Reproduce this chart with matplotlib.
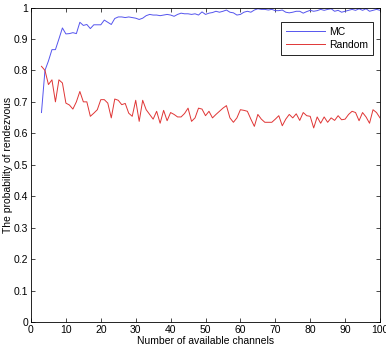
import matplotlib
matplotlib.use("Agg")
import matplotlib.pyplot as plt
import numpy as np

plt.rcParams['font.family'] = ['Liberation Sans', 'DejaVu Sans']

channels = list(range(3, 101))
mc = [0.666, 0.80, 0.83, 0.866, 0.866, 0.90, 0.935, 0.916, 0.917, 0.92,
      0.917, 0.953, 0.943, 0.946, 0.933, 0.945, 0.945, 0.945, 0.96, 0.953,
      0.946, 0.965, 0.97, 0.97, 0.968, 0.97, 0.968, 0.966, 0.962, 0.966,
      0.974, 0.978, 0.976, 0.976, 0.974, 0.976, 0.978, 0.976, 0.972, 0.978,
      0.982, 0.98, 0.98, 0.978, 0.98, 0.976, 0.986, 0.978, 0.982, 0.984,
      0.988, 0.985, 0.988, 0.992, 0.985, 0.983, 0.976, 0.978, 0.985, 0.988,
      0.985, 0.992, 0.996, 0.994, 0.994, 0.992, 0.994, 0.99, 0.99, 0.992,
      0.985, 0.983, 0.985, 0.988, 0.988, 0.982, 0.987, 0.991, 0.988, 0.99,
      0.994, 0.991, 0.994, 0.996, 0.988, 0.991, 0.985, 0.988, 0.991, 0.994,
      0.991, 0.996, 0.991, 0.996, 0.988, 0.991, 0.994, 0.991]
rnd = [0.813, 0.80, 0.755, 0.77, 0.70, 0.77, 0.76, 0.696, 0.69, 0.677,
       0.70, 0.733, 0.70, 0.70, 0.654, 0.664, 0.675, 0.707, 0.707, 0.696,
       0.649, 0.709, 0.705, 0.691, 0.695, 0.664, 0.654, 0.705, 0.638, 0.705,
       0.675, 0.66, 0.645, 0.67, 0.632, 0.673, 0.64, 0.666, 0.66, 0.652,
       0.652, 0.663, 0.68, 0.638, 0.649, 0.68, 0.677, 0.656, 0.67, 0.649,
       0.66, 0.67, 0.68, 0.688, 0.649, 0.635, 0.649, 0.675, 0.673, 0.67,
       0.645, 0.622, 0.66, 0.645, 0.635, 0.635, 0.635, 0.645, 0.656, 0.624,
       0.645, 0.66, 0.649, 0.662, 0.641, 0.666, 0.656, 0.654, 0.617, 0.652,
       0.632, 0.652, 0.635, 0.649, 0.641, 0.656, 0.643, 0.645, 0.66, 0.67,
       0.666, 0.64, 0.666, 0.652, 0.632, 0.675, 0.666, 0.649]

xticks = list(range(0, 101, 10))
yticks = [0, 0.1, 0.2, 0.3, 0.4, 0.5, 0.6, 0.7, 0.8, 0.9, 1]
yticklabels = ['0', '0.1', '0.2', '0.3', '0.4', '0.5', '0.6', '0.7', '0.8', '0.9', '1']

fig = plt.figure(figsize=(3.86, 3.49), dpi=100)
ax = fig.add_axes([31/386, 1 - 322/349, (380 - 31)/386, (322 - 7.5)/349])

ax.plot(channels, mc, color='#5555ee', lw=0.7, label='MC')
ax.plot(channels, rnd, color='#e03535', lw=0.7, label='Random')

ax.set_xlim(0, 100)
ax.set_ylim(0, 1)
ax.set_xticks(xticks)
ax.set_xticklabels([str(t) for t in xticks])
ax.set_yticks(yticks)
ax.set_yticklabels(yticklabels)
ax.tick_params(direction='in', top=True, right=True, labelsize=7.5, length=3,
               width=0.5, pad=2)
for s in ax.spines.values():
    s.set_linewidth(0.6)

ax.set_xlabel('Number of available channels', fontsize=7.5, labelpad=1)
ax.set_ylabel('The probability of rendezvous', fontsize=7.5, labelpad=0.5)

leg = ax.legend(loc='upper right', bbox_to_anchor=(373/386, 1 - 22/349),
                bbox_transform=fig.transFigure, fontsize=7.5, fancybox=False,
                framealpha=1, edgecolor='black', borderpad=0.45,
                borderaxespad=0, handlelength=3.8, labelspacing=0.3,
                handletextpad=0.4)
leg.get_frame().set_linewidth(0.6)

fig.savefig('out.png', dpi=100)
